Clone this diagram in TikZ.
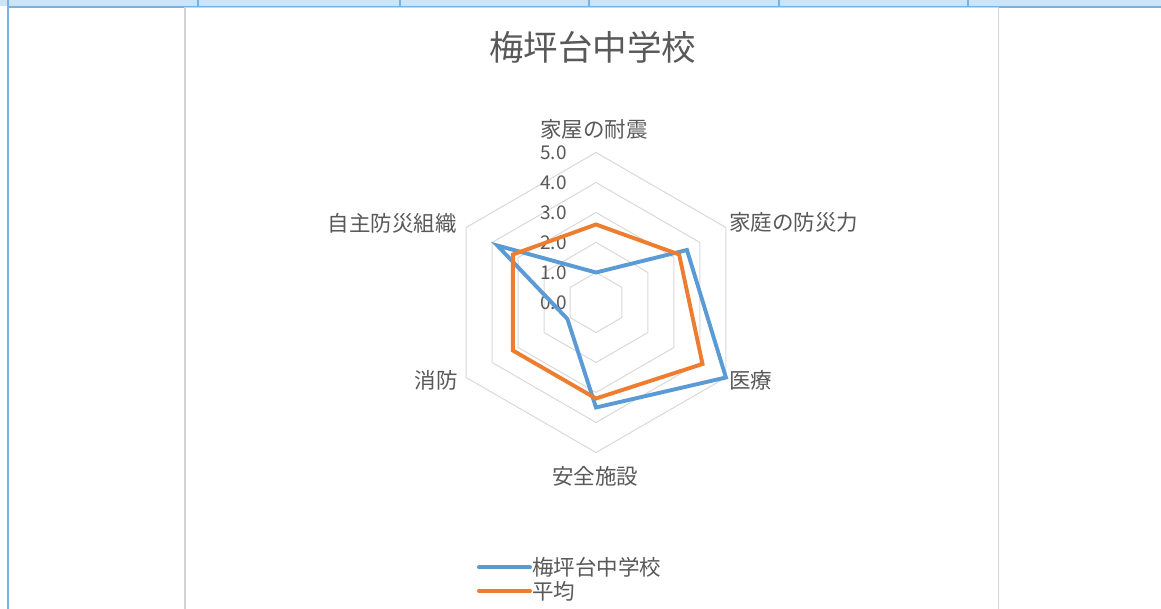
\documentclass[tikz,border=0pt]{standalone}
\usepackage{fontspec}
\newfontfamily\jp{Noto Sans CJK JP}
\definecolor{txt}{HTML}{595959}
\definecolor{gridc}{HTML}{D9D9D9}
\definecolor{serblue}{HTML}{5B9BD5}
\definecolor{serorange}{HTML}{ED7D31}
\definecolor{bandc}{HTML}{CDE4F6}
\definecolor{edgec}{HTML}{74B3E4}
\definecolor{framec}{HTML}{D4D4D4}
\tikzset{
  gridline/.style={draw=gridc, line width=1pt},
  seriesline/.style={line width=3.9pt, line join=miter},
  axislabel/.style={text=txt, inner sep=0pt, font=\jp\fontsize{21.5pt}{25pt}\selectfont},
  numlabel/.style={text=txt, inner sep=0pt, anchor=east, font=\jp\fontsize{19pt}{22pt}\selectfont},
  legendline/.style={line width=4pt, line cap=round},
}
\begin{document}
\begin{tikzpicture}[x=1pt,y=1pt]
\useasboundingbox (0,0) rectangle (1161,609);
\fill[white] (0,0) rectangle (1161,609);
% sheet frame
\fill[bandc] (0,602.5) rectangle (1161,609);
\draw[edgec, line width=2pt] (8,0) -- (8,609);
\draw[edgec, line width=1.8pt] (8,602.2) -- (1161,602.2);
\foreach \dx in {197.7,399.8,588.8,779,967.7}
  \draw[edgec, line width=1.7pt] (\dx,602.2) -- (\dx,609);
% chart area
\draw[framec, line width=1.4pt, fill=white] (184.8,-5) rectangle (998.3,601.3);
% title
\node[text=txt, inner sep=0pt, font=\jp\fontsize{34.5pt}{40pt}\selectfont] (title) at (592.5,561.5) {梅坪台中学校};
\begin{scope}[shift={(596,306.5)}, x=30pt, y=30pt]
  \foreach \r in {1,...,5}
    \draw[gridline] (90:\r) -- (30:\r) -- (-30:\r) -- (-90:\r) -- (-150:\r) -- (150:\r) -- cycle;
  \foreach \v in {0,...,5}
    \node[numlabel] (n\v) at (-0.97,\v) {\v.0};
  % data points
  \coordinate (b1) at (90:1.0);
  \coordinate (b2) at (30:3.5);
  \coordinate (b3) at (-30:5.0);
  \coordinate (b4) at (-90:3.5);
  \coordinate (b5) at (-150:1.1);
  \coordinate (b6) at (150:3.8);
  \coordinate (o1) at (90:2.6);
  \coordinate (o2) at (30:3.2);
  \coordinate (o3) at (-30:4.1);
  \coordinate (o4) at (-90:3.2);
  \coordinate (o5) at (-150:3.2);
  \coordinate (o6) at (150:3.2);
  \draw[seriesline, serblue] (b1) -- (b2) -- (b3) -- (b4) -- (b5) -- (b6) -- cycle;
  \draw[seriesline, serorange] (o1) -- (o2) -- (o3) -- (o4) -- (o5) -- (o6) -- cycle;
\end{scope}
% axis labels
\node[axislabel] (a1) at (594,480) {家屋の耐震};
\node[axislabel, anchor=west] (a2) at (729,387) {家庭の防災力};
\node[axislabel, anchor=west] (a3) at (729,229) {医療};
\node[axislabel] (a4) at (595,133) {安全施設};
\node[axislabel, anchor=east] (a5) at (458,229) {消防};
\node[axislabel, anchor=east] (a6) at (457,386) {自主防災組織};
% legend
\coordinate (lb1) at (479,41.5);
\coordinate (lb2) at (530,41.5);
\coordinate (lo1) at (479,18);
\coordinate (lo2) at (530,18);
\draw[legendline, serblue] (lb1) -- (lb2);
\draw[legendline, serorange] (lo1) -- (lo2);
\node[axislabel, anchor=west] (l1) at (532,41.5) {梅坪台中学校};
\node[axislabel, anchor=west] (l2) at (532,18) {平均};
\end{tikzpicture}
\end{document}
